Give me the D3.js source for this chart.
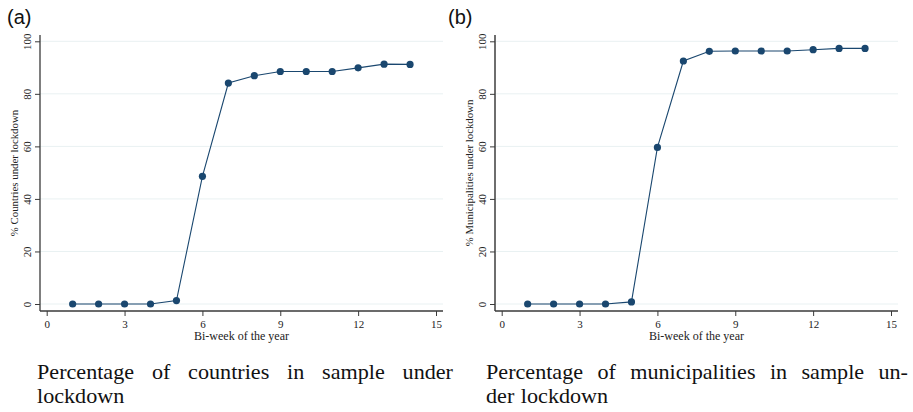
<!DOCTYPE html>
<html>
<head>
<meta charset="utf-8">
<script src="https://cdn.jsdelivr.net/npm/d3@7"></script>
<style>
  html, body { margin: 0; padding: 0; background: #fff; }
  svg { display: block; }
</style>
</head>
<body>
<svg id="chart" width="913" height="412"></svg>
<script>
// Bi-weeks of the year (x) and share under lockdown (y, %)
const biweeks = [1, 2, 3, 4, 5, 6, 7, 8, 9, 10, 11, 12, 13, 14];
const countriesPct = [0, 0, 0, 0, 1.3, 48.6, 84.1, 86.9, 88.5, 88.5, 88.5, 89.9, 91.3, 91.2];
const municipalitiesPct = [0, 0, 0, 0, 0.8, 59.6, 92.5, 96.2, 96.3, 96.3, 96.3, 96.8, 97.3, 97.3];
const xTicks = [0, 3, 6, 9, 12, 15];
const yTicks = [0, 20, 40, 60, 80, 100];
const panelLabels = ["(a)", "(b)"];
const yTitles = ["% Countries under lockdown", "% Municipalities under lockdown"];
const xTitle = "Bi-week of the year";
const captions = [
  ["Percentage of countries in sample under", "lockdown"],
  ["Percentage of municipalities in sample un-", "der lockdown"]
];

const svg = d3.select("#chart");
const serif = "'Liberation Serif', 'DejaVu Serif', serif";
const navy = "#1a476f";

const panels = [
  { left: 40, x0: 46.7, x15: 436, right: 443, values: countriesPct, axisColor: "#3a3a3a", axisW: 1.3,
    capL: 37, capR: 453 },
  { left: 495, x0: 501.7, x15: 891, right: 898, values: municipalitiesPct, axisColor: "#6e6e6e", axisW: 2,
    capL: 486, capR: 908 }
];

panels.forEach((p, i) => {
  const g = svg.append("g");
  const x = d3.scaleLinear().domain([0, 15]).range([p.x0, p.x15]);
  const y = d3.scaleLinear().domain([0, 100]).range([304, 41.3]);
  const axisY = 311;

  // horizontal gridlines
  g.append("g").selectAll("line").data(yTicks).join("line")
    .attr("x1", p.left).attr("x2", p.right)
    .attr("y1", d => y(d)).attr("y2", d => y(d))
    .attr("stroke", "#e9f1f2").attr("stroke-width", 1);

  // y axis with rotated tick labels
  const yAxis = g.append("g").attr("transform", `translate(${p.left},0)`)
    .call(d3.axisLeft(y).tickValues(yTicks).tickSize(5));
  yAxis.select(".domain").attr("d", `M0,35V${axisY}`)
    .attr("stroke", p.axisColor).attr("stroke-width", p.axisW);
  yAxis.selectAll(".tick line").attr("stroke", "#3a3a3a");
  yAxis.selectAll(".tick text")
    .attr("font-family", serif).attr("font-size", 10.8).attr("fill", "#222")
    .attr("text-anchor", "middle")
    .attr("x", 0).attr("y", 0).attr("dy", "0.32em")
    .attr("transform", "translate(-12,0) rotate(-90)");

  // x axis
  const xAxis = g.append("g").attr("transform", `translate(0,${axisY})`)
    .call(d3.axisBottom(x).tickValues(xTicks).tickSize(5).tickPadding(4));
  xAxis.select(".domain").attr("d", `M${p.left},0H${p.right}`)
    .attr("stroke", "#3a3a3a").attr("stroke-width", 1.3);
  xAxis.selectAll(".tick line").attr("stroke", "#3a3a3a");
  xAxis.selectAll(".tick text")
    .attr("font-family", serif).attr("font-size", 11).attr("fill", "#222");

  // axis titles
  g.append("text")
    .attr("text-anchor", "middle").attr("dy", "0.35em")
    .attr("font-family", serif).attr("font-size", 10.8).attr("fill", "#222")
    .attr("transform", `translate(${p.left - 26},${(35 + axisY) / 2}) rotate(-90)`)
    .text(yTitles[i]);
  g.append("text")
    .attr("x", (p.left + p.right) / 2).attr("y", 340)
    .attr("text-anchor", "middle")
    .attr("font-family", serif).attr("font-size", 12).attr("fill", "#222")
    .text(xTitle);

  // series line and markers
  const pts = biweeks.map((b, k) => [b, p.values[k]]);
  g.append("path").datum(pts)
    .attr("fill", "none").attr("stroke", navy).attr("stroke-width", 1.1)
    .attr("d", d3.line().x(d => x(d[0])).y(d => y(d[1])));
  g.append("g").selectAll("circle").data(pts).join("circle")
    .attr("cx", d => x(d[0])).attr("cy", d => y(d[1])).attr("r", 3.6)
    .attr("fill", navy);

  // panel label
  svg.append("text")
    .attr("x", i === 0 ? 7 : 448).attr("y", 24)
    .attr("font-family", "'Liberation Sans', Arial, sans-serif").attr("font-size", 20)
    .attr("fill", "#111")
    .text(panelLabels[i]);

  // caption: first line justified across the panel width, slightly widened glyphs
  const fontSize = 20.5;
  const stretch = 1.08;
  const [line1, line2] = captions[i];
  const words = line1.split(" ");
  const wNodes = words.map(w => svg.append("text")
    .attr("font-family", serif).attr("font-size", fontSize).attr("fill", "#111")
    .text(w));
  const widths = wNodes.map(n => n.node().getComputedTextLength() * stretch);
  const total = d3.sum(widths);
  const gap = (p.capR - p.capL - total) / (words.length - 1);
  let cx = p.capL;
  wNodes.forEach((n, k) => {
    n.attr("transform", `translate(${cx},379) scale(${stretch},1)`);
    cx += widths[k] + gap;
  });
  svg.append("text")
    .attr("transform", `translate(${p.capL},403) scale(${stretch},1)`)
    .attr("font-family", serif).attr("font-size", fontSize).attr("fill", "#111")
    .attr("word-spacing", 1)
    .text(line2);
});
</script>
</body>
</html>
